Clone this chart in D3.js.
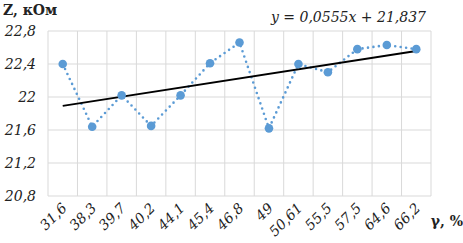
<!DOCTYPE html>
<html><head><meta charset="utf-8">
<script src="https://cdn.jsdelivr.net/npm/d3@7"></script>
<style>body{margin:0;background:#fff}svg{display:block}</style>
</head><body>
<script>
const categories = ["31,6","38,3","39,7","40,2","44,1","45,4","46,8","49","50,61","55,5","57,5","64,6","66,2"];
const values = [22.40,21.64,22.02,21.65,22.02,22.41,22.66,21.62,22.40,22.30,22.58,22.63,22.58];
const yTicks = [20.8,21.2,21.6,22.0,22.4,22.8];
const trend = {slope:0.0555, intercept:21.837};

const FONT = "'DejaVu Serif', serif";
const W=463,H=243;
const svg=d3.select("body").append("svg").attr("width",W).attr("height",H)
 .style("font-family",FONT);
const m={l:48,r:431,t:31,b:196};
const x=d3.scaleBand().domain(categories).range([m.l,m.r]);
const y=d3.scaleLinear().domain([20.8,22.8]).range([m.b,m.t]);
const fmt=d=>d3.format(".1f")(d).replace(".",",");

svg.append("g").selectAll("line").data(yTicks).join("line")
 .attr("x1",m.l).attr("x2",m.r).attr("y1",d=>y(d)).attr("y2",d=>y(d))
 .attr("stroke","#d9d9d9").attr("stroke-width",1);
const bounds=categories.map(c=>x(c)).concat([m.r]);
svg.append("g").selectAll("line").data(bounds).join("line")
 .attr("x1",d=>d).attr("x2",d=>d).attr("y1",m.t).attr("y2",m.b)
 .attr("stroke","#d9d9d9").attr("stroke-width",1);

svg.append("g").selectAll("text").data(yTicks).join("text")
 .attr("x",36).attr("y",d=>y(d)+5).attr("text-anchor","end")
 .style("font-style","italic").style("font-size","14px")
 .attr("fill","#222").text(d=>d===22?"22":fmt(d));

svg.append("g").selectAll("text").data(categories).join("text")
 .attr("text-anchor","end")
 .attr("transform",d=>`translate(${x(d)+x.bandwidth()/2+5},${209}) rotate(-45)`)
 .style("font-style","italic").style("font-size","14px")
 .attr("fill","#222").text(d=>d);

const cx=d=>x(d)+x.bandwidth()/2;
svg.append("path").datum(values)
 .attr("d",d3.line().x((d,i)=>cx(categories[i])).y(d=>y(d)))
 .attr("fill","none").attr("stroke","#5b9bd5").attr("stroke-width",2.6)
 .attr("stroke-dasharray","0 5.5").attr("stroke-linecap","round");

const n=categories.length;
svg.append("line")
 .attr("x1",cx(categories[0])).attr("y1",y(trend.slope*1+trend.intercept))
 .attr("x2",cx(categories[n-1])).attr("y2",y(trend.slope*n+trend.intercept))
 .attr("stroke","#000").attr("stroke-width",2);

svg.append("g").selectAll("circle").data(values).join("circle")
 .attr("cx",(d,i)=>cx(categories[i])).attr("cy",d=>y(d)).attr("r",4.3)
 .attr("fill","#5b9bd5");

svg.append("text").attr("x",3).attr("y",15)
 .style("font-weight","bold").style("font-size","14px").attr("fill","#222").text("Z, кОм");
svg.append("text").attr("x",463).attr("y",226).attr("text-anchor","end")
 .style("font-weight","bold").style("font-size","14px").attr("fill","#222").text("γ, %");
svg.append("text").attr("x",426).attr("y",22).attr("text-anchor","end")
 .style("font-style","italic").style("font-size","14px").attr("fill","#222").text("y = 0,0555x + 21,837");
</script>
</body></html>
